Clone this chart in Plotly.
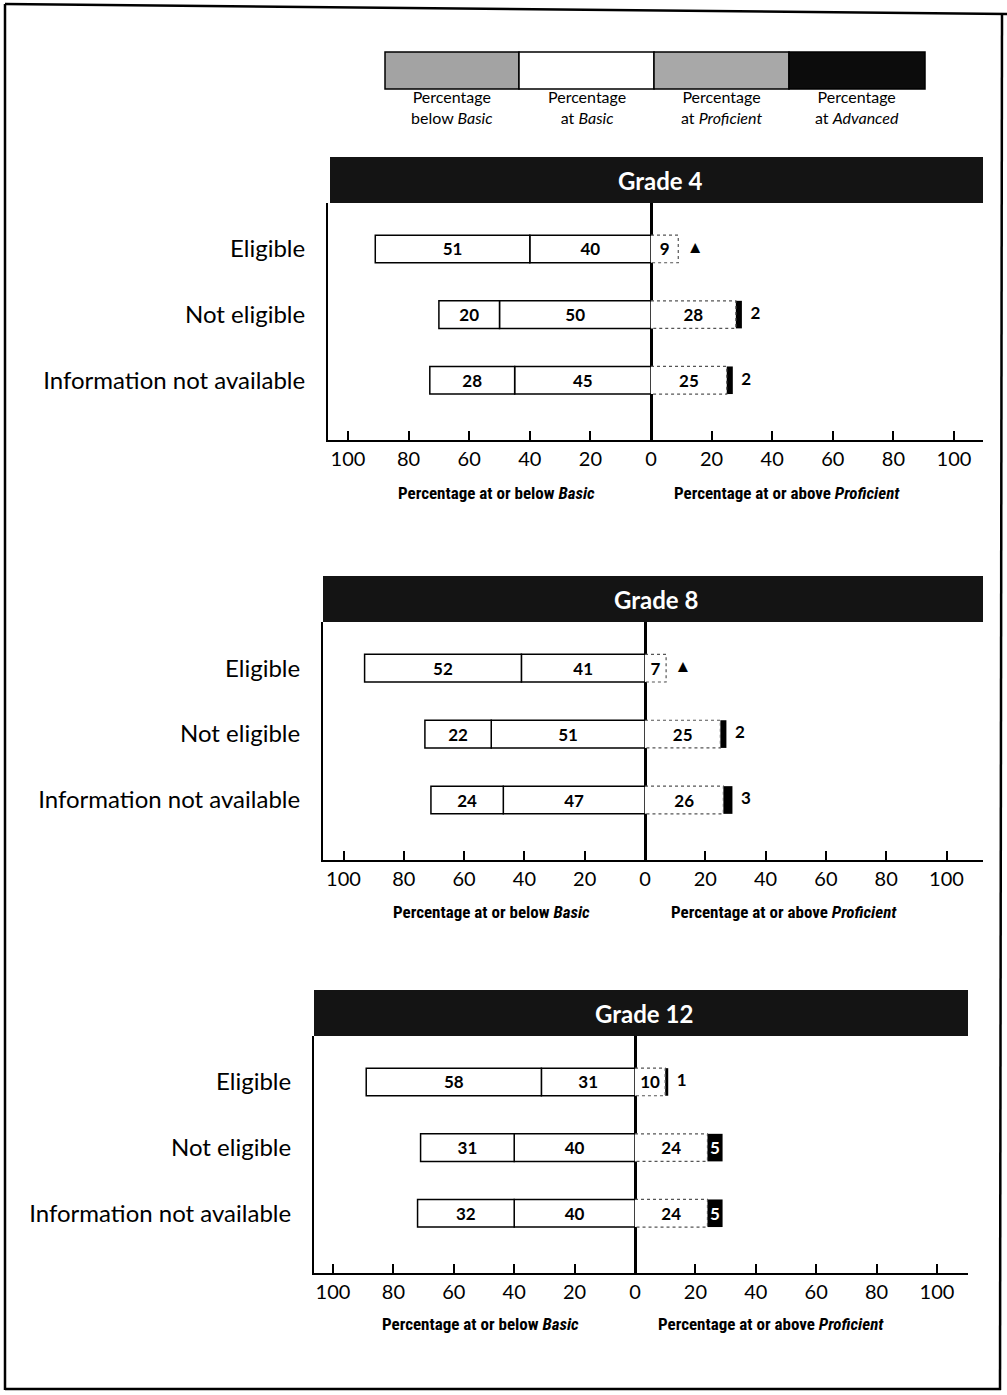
import plotly.graph_objects as go

# ---------------- data ----------------
categories = ["Eligible", "Not eligible", "Information not available"]

g4_below = [51, 20, 28]
g4_basic = [40, 50, 45]
g4_prof = [9, 28, 25]
g4_adv = [0, 2, 2]
g4_adv_label = ["\u25B2", "2", "2"]

g8_below = [52, 22, 24]
g8_basic = [41, 51, 47]
g8_prof = [7, 25, 26]
g8_adv = [0, 2, 3]
g8_adv_label = ["\u25B2", "2", "3"]

g12_below = [58, 31, 32]
g12_basic = [31, 40, 40]
g12_prof = [10, 24, 24]
g12_adv = [1, 5, 5]
g12_adv_label = ["1", "5", "5"]

grades = ["Grade 4", "Grade 8", "Grade 12"]
tick_vals = [-100, -80, -60, -40, -20, 0, 20, 40, 60, 80, 100]
tick_text = [str(abs(v)) for v in tick_vals]
legend_labels = ["Percentage<br>below <i>Basic</i>", "Percentage<br>at <i>Basic</i>",
                 "Percentage<br>at <i>Proficient</i>", "Percentage<br>at <i>Advanced</i>"]

# ---------------- layout helpers ----------------
W, H = 1007, 1395
def px(x): return x / W
def py(y): return 1 - y / H

FONT = "Lato, Open Sans, sans-serif"
NARROW = "Liberation Sans Narrow, Roboto Condensed, DejaVu Sans Condensed, Arial Narrow, sans-serif"

panels = [
    dict(data=(g4_below, g4_basic, g4_prof, g4_adv, g4_adv_label),
         head=(330, 983, 157, 203), left=328, right=983, zero=651, scale=3.03,
         top=203, bottom=440, title_y=493, tx=(-51, 45)),
    dict(data=(g8_below, g8_basic, g8_prof, g8_adv, g8_adv_label),
         head=(323, 983, 576, 622), left=323, right=983, zero=645, scale=3.015,
         top=622, bottom=860, title_y=912, tx=(-51, 46)),
    dict(data=(g12_below, g12_basic, g12_prof, g12_adv, g12_adv_label),
         head=(314, 968, 990, 1036), left=314, right=968, zero=635, scale=3.02,
         top=1036, bottom=1273, title_y=1324, tx=(-51, 45)),
]

BW = 0.42
pos = list(range(len(categories)))

fig = go.Figure()
shapes = []
annotations = []
layout_axes = {}

for i, p in enumerate(panels):
    below, basic, prof, adv, adv_lab = p["data"]
    sfx = "" if i == 0 else str(i + 1)
    xa, ya = "x" + sfx, "y" + sfx
    num_font = dict(family=FONT, size=17, color="black", weight="bold")

    fig.add_trace(go.Bar(x=[-v for v in basic], y=pos, orientation="h", width=BW,
                         marker=dict(color="white", line=dict(color="black", width=1.5)),
                         text=[str(v) for v in basic], textposition="inside",
                         insidetextanchor="middle", constraintext="none", textangle=0,
                         textfont=num_font, xaxis=xa, yaxis=ya, showlegend=False,
                         hoverinfo="skip"))
    fig.add_trace(go.Bar(x=[-v for v in below], y=pos, orientation="h", width=BW,
                         marker=dict(color="white", line=dict(color="black", width=1.5)),
                         text=[str(v) for v in below], textposition="inside",
                         insidetextanchor="middle", constraintext="none", textangle=0,
                         textfont=num_font, xaxis=xa, yaxis=ya, showlegend=False,
                         hoverinfo="skip"))
    fig.add_trace(go.Bar(x=prof, y=pos, orientation="h", width=BW,
                         marker=dict(color="white", line=dict(width=0)),
                         text=[str(v) for v in prof], textposition="inside",
                         insidetextanchor="middle", constraintext="none", textangle=0,
                         textfont=num_font, xaxis=xa, yaxis=ya, showlegend=False,
                         hoverinfo="skip"))
    fig.add_trace(go.Bar(x=adv, y=pos, orientation="h", width=BW,
                         marker=dict(color="black", line=dict(width=0)),
                         text=[l if a >= 4 else "" for a, l in zip(adv, adv_lab)],
                         textposition="inside", insidetextanchor="middle",
                         constraintext="none", textangle=0,
                         textfont=dict(family=FONT, size=17, color="white", weight="bold"),
                         xaxis=xa, yaxis=ya, showlegend=False, hoverinfo="skip"))
    # dotted outline of proficient bars
    ox, oy = [], []
    for k in pos:
        ox += [0, prof[k], prof[k], 0, None]
        oy += [k - BW / 2, k - BW / 2, k + BW / 2, k + BW / 2, None]
    fig.add_trace(go.Scatter(x=ox, y=oy, mode="lines",
                             line=dict(color="#555", width=1.2, dash="dot"),
                             xaxis=xa, yaxis=ya, showlegend=False, hoverinfo="skip"))
    # outside advanced labels
    lx, ly, lt = [], [], []
    for k in pos:
        if adv[k] < 4:
            lx.append(prof[k] + adv[k]); ly.append(k); lt.append("\u2002" + adv_lab[k])
    fig.add_trace(go.Scatter(x=lx, y=ly, mode="text", text=lt, textposition="middle right",
                             textfont=dict(family=FONT, size=17, color="black", weight="bold"),
                             xaxis=xa, yaxis=ya, showlegend=False, hoverinfo="skip"))

    rng = [-(p["zero"] - p["left"]) / p["scale"], (p["right"] - p["zero"]) / p["scale"]]
    layout_axes["xaxis" + sfx] = dict(
        domain=[px(p["left"]), px(p["right"])], range=rng, anchor=ya,
        tickvals=tick_vals, ticktext=tick_text, ticks="inside", ticklen=9, tickwidth=2,
        tickcolor="black", showline=True, linewidth=2, linecolor="black",
        showgrid=False, zeroline=True, zerolinewidth=3, zerolinecolor="black",
        tickfont=dict(family=FONT, size=20, color="black"), layer="above traces",
        fixedrange=True)
    layout_axes["yaxis" + sfx] = dict(
        domain=[py(p["bottom"]), py(p["top"])], range=[2.91, -0.70], anchor=xa,
        tickvals=pos, ticktext=categories, ticks="", showline=True, linewidth=2,
        linecolor="black", showgrid=False, zeroline=False, ticklabelstandoff=16,
        tickfont=dict(family=FONT, size=24, color="black"), fixedrange=True)

    x0, x1, y0, y1 = p["head"]
    shapes.append(dict(type="rect", xref="paper", yref="paper", x0=px(x0), x1=px(x1),
                       y0=py(y1), y1=py(y0), fillcolor="#141414", line=dict(width=0)))
    annotations.append(dict(text="<b>" + grades[i] + "</b>", xref="paper", yref="paper",
                            x=px((x0 + x1) / 2 + 3), y=py((y0 + y1) / 2), showarrow=False,
                            font=dict(family=FONT, size=24, color="white"),
                            xanchor="center", yanchor="middle"))
    annotations.append(dict(text="<b>Percentage at or below <i>Basic</i></b>", xref=xa,
                            yref="paper", x=p["tx"][0], y=py(p["title_y"]), showarrow=False,
                            font=dict(family=NARROW, size=17, color="black"),
                            xanchor="center", yanchor="middle"))
    annotations.append(dict(text="<b>Percentage at or above <i>Proficient</i></b>", xref=xa,
                            yref="paper", x=p["tx"][1], y=py(p["title_y"]), showarrow=False,
                            font=dict(family=NARROW, size=17, color="black"),
                            xanchor="center", yanchor="middle"))

# legend key at the top
key_x = [385, 519, 654, 789, 925]
key_fill = ["#a3a3a3", "white", "#a8a8a8", "#0c0c0c"]
for j in range(4):
    shapes.append(dict(type="rect", xref="paper", yref="paper", x0=px(key_x[j]),
                       x1=px(key_x[j + 1]), y0=py(89), y1=py(52), fillcolor=key_fill[j],
                       line=dict(color="black", width=1.5)))
    annotations.append(dict(text=legend_labels[j], xref="paper", yref="paper",
                            x=px((key_x[j] + key_x[j + 1]) / 2), y=py(107), showarrow=False,
                            font=dict(family=FONT, size=16, color="black"),
                            xanchor="center", yanchor="middle"))

# page frame
frame = [((5, 4), (1007, 14)), ((5, 4), (5, 1390)), ((1002, 14), (1000, 1390)),
         ((5, 1389), (1001, 1389))]
for (a, b) in frame:
    shapes.append(dict(type="line", xref="paper", yref="paper", x0=px(a[0]), y0=py(a[1]),
                       x1=px(b[0]), y1=py(b[1]), line=dict(color="black", width=2.5)))

fig.update_layout(width=W, height=H, margin=dict(l=0, r=0, t=0, b=0),
                  paper_bgcolor="white", plot_bgcolor="white", barmode="relative",
                  shapes=shapes, annotations=annotations, showlegend=False,
                  **layout_axes)

fig.write_html("out.html", config={"displayModeBar": False},
               post_script="document.body.style.margin='0';document.body.style.overflow='hidden';")
